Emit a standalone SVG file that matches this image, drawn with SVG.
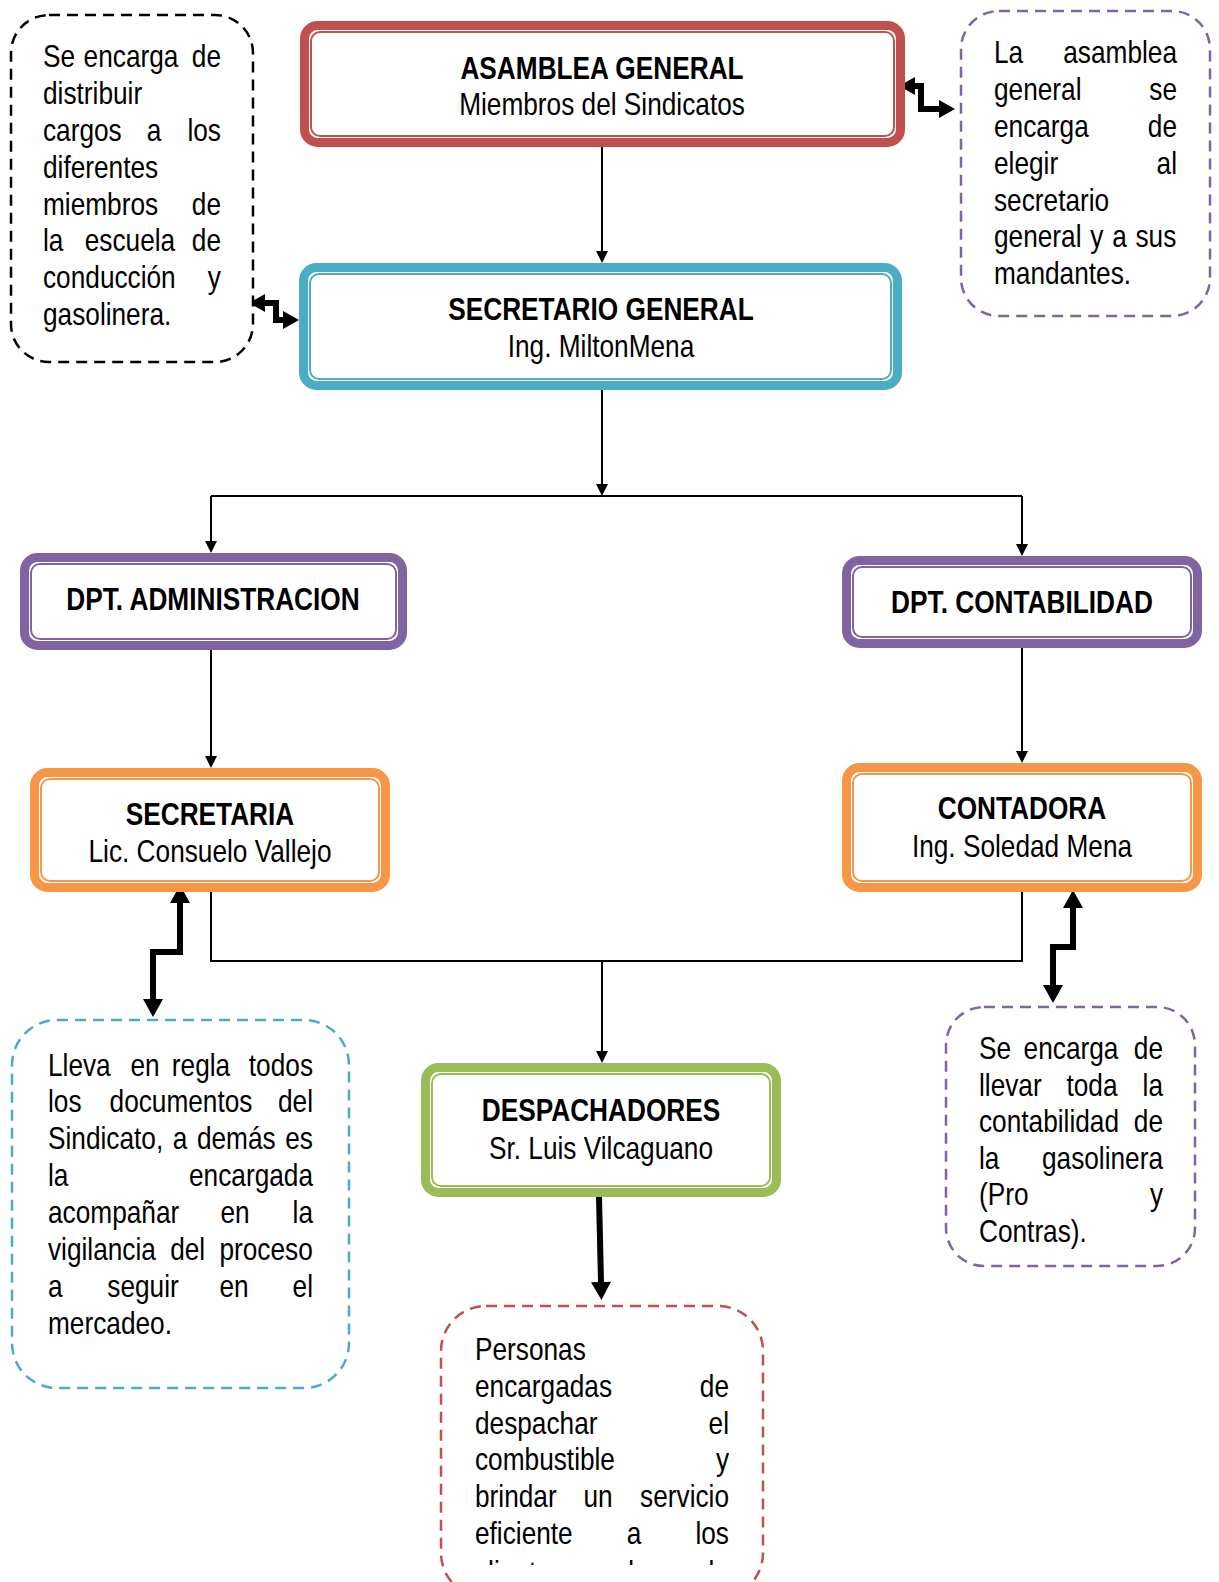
<svg xmlns="http://www.w3.org/2000/svg" width="1219" height="1582" viewBox="0 0 1219 1582">
<style>
.t{font-family:'Liberation Sans',Arial,sans-serif;font-size:32px;fill:#000}
.b{font-weight:bold}
.c{text-anchor:middle}
.e{text-anchor:end}
.outer{fill:#fff;stroke-width:9}
.inner{fill:none;stroke-width:2}
.dash{fill:#fff;stroke-width:2.5;stroke-dasharray:11 7}
.ln{fill:none;stroke:#000;stroke-width:2}
.thick{fill:none;stroke:#000;stroke-width:6;stroke-linejoin:miter}
</style>
<defs>
<marker id="a" markerUnits="userSpaceOnUse" markerWidth="12" markerHeight="12" refX="0" refY="6" orient="auto" overflow="visible"><path d="M0,0 L12,6 L0,12 z" fill="#000"/></marker>
<marker id="m" markerUnits="userSpaceOnUse" markerWidth="16" markerHeight="18" refX="0" refY="9" orient="auto-start-reverse" overflow="visible"><path d="M0,0 L16,9 L0,18 z" fill="#000"/></marker>
<marker id="k" markerUnits="userSpaceOnUse" markerWidth="18" markerHeight="20" refX="0" refY="10" orient="auto-start-reverse" overflow="visible"><path d="M0,0 L18,10 L0,20 z" fill="#000"/></marker>
<clipPath id="clipbot"><rect x="500" y="1300" width="450" height="265"/></clipPath>
</defs>

<g id="connectors">
<path class="ln" d="M602,147 V251" marker-end="url(#a)"/>
<path class="ln" d="M602,390 V484" marker-end="url(#a)"/>
<path class="ln" d="M211,496 H1022"/>
<path class="ln" d="M211,496 V541" marker-end="url(#a)"/>
<path class="ln" d="M1022,496 V544" marker-end="url(#a)"/>
<path class="ln" d="M211,650 V756" marker-end="url(#a)"/>
<path class="ln" d="M1022,648 V751" marker-end="url(#a)"/>
<path class="ln" d="M211,892 V961 H1022 V892"/>
<path class="ln" d="M602,961 V1051" marker-end="url(#a)"/>
<path class="thick" d="M599,1197 L601,1282" stroke-width="7" marker-end="url(#k)"/>
<path class="thick" d="M180,903 V952 H153 V999" marker-start="url(#k)" marker-end="url(#k)"/>
<path class="thick" d="M1073,908 V947 H1053 V985" marker-start="url(#k)" marker-end="url(#k)"/>
<path class="thick" d="M915,86 H921 V109 H939" stroke-width="5" marker-start="url(#m)" marker-end="url(#m)"/>
<path class="thick" d="M265,303 H276 V320 H283" stroke-width="5" marker-start="url(#m)" marker-end="url(#m)"/>
</g>

<g id="asamblea">
<rect class="outer" x="304.5" y="25.5" width="596" height="117" rx="13" stroke="#C0504D"/>
<rect class="inner" x="311" y="32" width="583" height="104" rx="9" stroke="#C0504D"/>
<g transform="scale(0.82,1)">
<text class="t b c" x="734.15" y="79">ASAMBLEA GENERAL</text>
<text class="t c" x="734.15" y="115">Miembros del Sindicatos</text>
</g>
</g>

<g id="secretario">
<rect class="outer" x="303.5" y="267.5" width="594" height="118" rx="13" stroke="#4BACC6"/>
<rect class="inner" x="310" y="274" width="581" height="105" rx="9" stroke="#4BACC6"/>
<g transform="scale(0.82,1)">
<text class="t b c" x="732.93" y="320">SECRETARIO GENERAL</text>
<text class="t c" x="732.93" y="357">Ing. MiltonMena</text>
</g>
</g>

<g id="admin">
<rect class="outer" x="24.5" y="557.5" width="378" height="88" rx="13" stroke="#8064A2"/>
<rect class="inner" x="31" y="564" width="365" height="75" rx="9" stroke="#8064A2"/>
<g transform="scale(0.82,1)">
<text class="t b c" x="259.76" y="610">DPT. ADMINISTRACION</text>
</g>
</g>

<g id="contab">
<rect class="outer" x="846.5" y="560.5" width="351" height="83" rx="13" stroke="#8064A2"/>
<rect class="inner" x="853" y="567" width="338" height="70" rx="9" stroke="#8064A2"/>
<g transform="scale(0.82,1)">
<text class="t b c" x="1246.34" y="613">DPT. CONTABILIDAD</text>
</g>
</g>

<g id="secretaria">
<rect class="outer" x="34.5" y="772.5" width="351" height="115" rx="13" stroke="#F79646"/>
<rect class="inner" x="41" y="779" width="338" height="102" rx="9" stroke="#F79646"/>
<g transform="scale(0.82,1)">
<text class="t b c" x="256.1" y="825">SECRETARIA</text>
<text class="t c" x="256.1" y="862">Lic. Consuelo Vallejo</text>
</g>
</g>

<g id="contadora">
<rect class="outer" x="846.5" y="767.5" width="351" height="120" rx="13" stroke="#F79646"/>
<rect class="inner" x="853" y="774" width="338" height="107" rx="9" stroke="#F79646"/>
<g transform="scale(0.82,1)">
<text class="t b c" x="1246.34" y="819">CONTADORA</text>
<text class="t c" x="1246.34" y="857">Ing. Soledad Mena</text>
</g>
</g>

<g id="despachadores">
<rect class="outer" x="425.5" y="1067.5" width="351" height="125" rx="13" stroke="#9BBB59"/>
<rect class="inner" x="432" y="1074" width="338" height="112" rx="9" stroke="#9BBB59"/>
<g transform="scale(0.82,1)">
<text class="t b c" x="732.93" y="1121">DESPACHADORES</text>
<text class="t c" x="732.93" y="1159">Sr. Luis Vilcaguano</text>
</g>
</g>

<g id="nota-distribuir">
<rect class="dash" x="11" y="15" width="242" height="347" rx="38" stroke="#000"/>
<g transform="scale(0.82,1)">
<text class="t" x="52.44" y="67.5">Se</text><text class="t c" x="159.76" y="67.5">encarga</text><text class="t e" x="269.51" y="67.5">de</text>
<text class="t" x="52.44" y="104.3">distribuir</text>
<text class="t" x="52.44" y="141.1">cargos</text><text class="t c" x="187.8" y="141.1">a</text><text class="t e" x="269.51" y="141.1">los</text>
<text class="t" x="52.44" y="177.9">diferentes</text>
<text class="t" x="52.44" y="214.7">miembros</text><text class="t e" x="269.51" y="214.7">de</text>
<text class="t" x="52.44" y="251.5">la</text><text class="t c" x="158.54" y="251.5">escuela</text><text class="t e" x="269.51" y="251.5">de</text>
<text class="t" x="52.44" y="288.3">conducción</text><text class="t e" x="269.51" y="288.3">y</text>
<text class="t" x="52.44" y="325.1">gasolinera.</text>
</g>
</g>

<g id="nota-asamblea">
<rect class="dash" x="961" y="11" width="249" height="305" rx="38" stroke="#8064A2"/>
<g transform="scale(0.82,1)">
<text class="t" x="1212.2" y="63.5">La</text><text class="t e" x="1435.37" y="63.5">asamblea</text>
<text class="t" x="1212.2" y="100.3">general</text><text class="t e" x="1435.37" y="100.3">se</text>
<text class="t" x="1212.2" y="137.1">encarga</text><text class="t e" x="1435.37" y="137.1">de</text>
<text class="t" x="1212.2" y="173.9">elegir</text><text class="t e" x="1435.37" y="173.9">al</text>
<text class="t" x="1212.2" y="210.7">secretario</text>
<text class="t" x="1212.2" y="247.5" word-spacing="1.8">general y a sus</text>
<text class="t" x="1212.2" y="284.3">mandantes.</text>
</g>
</g>

<g id="nota-secretaria">
<rect class="dash" x="12" y="1020" width="337" height="368" rx="45" stroke="#4BACC6"/>
<g transform="scale(0.82,1)">
<text class="t" x="58.54" y="1075.6">Lleva</text><text class="t c" x="176.83" y="1075.6">en</text><text class="t c" x="245.12" y="1075.6">regla</text><text class="t e" x="381.71" y="1075.6">todos</text>
<text class="t" x="58.54" y="1112.5">los</text><text class="t c" x="220.73" y="1112.5">documentos</text><text class="t e" x="381.71" y="1112.5">del</text>
<text class="t" x="58.54" y="1149.4" word-spacing="2.8">Sindicato, a demás es</text>
<text class="t" x="58.54" y="1186.3">la</text><text class="t e" x="381.71" y="1186.3">encargada</text>
<text class="t" x="58.54" y="1223.2">acompañar</text><text class="t c" x="286.59" y="1223.2">en</text><text class="t e" x="381.71" y="1223.2">la</text>
<text class="t" x="58.54" y="1260.1" word-spacing="8.5">vigilancia del proceso</text>
<text class="t" x="58.54" y="1297">a</text><text class="t c" x="174.39" y="1297">seguir</text><text class="t c" x="285.37" y="1297">en</text><text class="t e" x="381.71" y="1297">el</text>
<text class="t" x="58.54" y="1333.9">mercadeo.</text>
</g>
</g>

<g id="nota-contadora">
<rect class="dash" x="946" y="1007" width="249" height="259" rx="38" stroke="#8064A2"/>
<g transform="scale(0.82,1)">
<text class="t" x="1193.9" y="1059.5">Se</text><text class="t c" x="1306.1" y="1059.5">encarga</text><text class="t e" x="1418.29" y="1059.5">de</text>
<text class="t" x="1193.9" y="1096">llevar</text><text class="t c" x="1331.71" y="1096">toda</text><text class="t e" x="1418.29" y="1096">la</text>
<text class="t" x="1193.9" y="1132.5">contabilidad</text><text class="t e" x="1418.29" y="1132.5">de</text>
<text class="t" x="1193.9" y="1169">la</text><text class="t e" x="1418.29" y="1169">gasolinera</text>
<text class="t" x="1193.9" y="1205.5">(Pro</text><text class="t e" x="1418.29" y="1205.5">y</text>
<text class="t" x="1193.9" y="1242">Contras).</text>
</g>
</g>

<g id="nota-despachadores">
<rect class="dash" x="441" y="1306" width="322" height="292" rx="45" stroke="#C0504D"/>
<g transform="scale(0.82,1)">
<text class="t" x="579.27" y="1360">Personas</text>
<text class="t" x="579.27" y="1396.8">encargadas</text><text class="t e" x="889.02" y="1396.8">de</text>
<text class="t" x="579.27" y="1433.6">despachar</text><text class="t e" x="889.02" y="1433.6">el</text>
<text class="t" x="579.27" y="1470.4">combustible</text><text class="t e" x="889.02" y="1470.4">y</text>
<text class="t" x="579.27" y="1507.2">brindar</text><text class="t c" x="729.27" y="1507.2">un</text><text class="t e" x="889.02" y="1507.2">servicio</text>
<text class="t" x="579.27" y="1544">eficiente</text><text class="t c" x="773.17" y="1544">a</text><text class="t e" x="889.02" y="1544">los</text>
<g clip-path="url(#clipbot)"><text class="t" x="579.27" y="1583">clientes</text><text class="t c" x="773.17" y="1583">de</text><text class="t e" x="889.02" y="1583">la</text></g>
</g>
</g>
</svg>
